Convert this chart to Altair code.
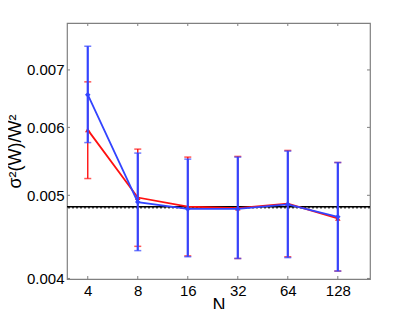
import altair as alt
import pandas as pd

# Data
ns = [4, 8, 16, 32, 64, 128]
blue_mean = [0.00655, 0.00491, 0.00482, 0.00482, 0.00488, 0.00472]
blue_hi = [0.00746, 0.00560, 0.00551, 0.00554, 0.00563, 0.00546]
blue_lo = [0.00576, 0.00431, 0.00424, 0.00422, 0.00423, 0.00408]
red_mean = [0.00596, 0.00497, 0.00485, 0.00483, 0.00489, 0.00470]
red_hi = [0.00678, 0.00566, 0.00554, 0.00555, 0.00564, 0.00546]
red_lo = [0.00523, 0.00436, 0.00425, 0.00422, 0.00424, 0.00408]
ref_solid = 0.00485
ref_dotted = 0.00484
x_ticks = [4, 8, 16, 32, 64, 128]
y_ticks = [0.004, 0.005, 0.006, 0.007]
x_domain = [3, 200]
y_domain = [0.003994, 0.00794]

W, H = 303, 256
FONT = "Liberation Sans"

df_b = pd.DataFrame({"N": ns, "m": blue_mean, "hi": blue_hi, "lo": blue_lo})
df_r = pd.DataFrame({"N": ns, "m": red_mean, "hi": red_hi, "lo": red_lo})

xs = alt.Scale(type="log", base=2, domain=x_domain, nice=False)
ys = alt.Scale(type="log", domain=y_domain, nice=False, zero=False)

xenc = alt.X("N:Q", scale=xs, title="N",
             axis=alt.Axis(values=x_ticks, format="d", tickSize=0, grid=False,
                           labelFontSize=15, labelPadding=4, labelColor="black",
                           labelFont=FONT, titleFont=FONT, titleFontSize=18,
                           titleFontWeight="normal", titlePadding=-2,
                           titleColor="black", domain=False, labelFlush=False))
yaxis = alt.Axis(values=y_ticks, format=".3f", tickSize=0, grid=False,
                 labelFontSize=15, labelPadding=3, labelColor="black",
                 labelFont=FONT, titleFont=FONT, titleFontSize=18,
                 titleFontWeight="normal", titlePadding=2, titleColor="black",
                 domain=False, labelFlush=False)


def series(df, color, shape, ew):
    base = alt.Chart(df)
    line = base.mark_line(color=color, strokeWidth=1.8).encode(
        x=xenc, y=alt.Y("m:Q", scale=ys, axis=yaxis, title="σ²(W)/W²"))
    err = base.mark_rule(color=color, strokeWidth=ew).encode(
        x="N:Q", y="lo:Q", y2="hi:Q")
    cap_hi = base.mark_tick(color=color, orient="horizontal", size=7,
                            thickness=1.5).encode(x="N:Q", y="hi:Q")
    cap_lo = base.mark_tick(color=color, orient="horizontal", size=7,
                            thickness=1.5).encode(x="N:Q", y="lo:Q")
    pts = base.mark_point(color=color, shape=shape, filled=True, size=30,
                          opacity=1).encode(x="N:Q", y="m:Q")
    return [line, err, cap_hi, cap_lo, pts]


ref_df = pd.DataFrame({"v": [ref_solid], "d": [ref_dotted]})
dotted = alt.Chart(ref_df).mark_rule(color="#555555", strokeWidth=2,
                                     strokeDash=[2, 2]).encode(y="d:Q")
solid = alt.Chart(ref_df).mark_rule(color="black", strokeWidth=1.5).encode(y="v:Q")

# inward ticks (matlab style)
xt = pd.DataFrame({"N": x_ticks})
yt = pd.DataFrame({"v": y_ticks})
tick_b = alt.Chart(xt).mark_rule(color="#808080").encode(
    x="N:Q", y=alt.value(H), y2=alt.value(H - 3))
tick_t = alt.Chart(xt).mark_rule(color="#808080").encode(
    x="N:Q", y=alt.value(0), y2=alt.value(3))
tick_l = alt.Chart(yt).mark_rule(color="#808080").encode(
    y="v:Q", x=alt.value(0), x2=alt.value(3))
tick_r = alt.Chart(yt).mark_rule(color="#808080").encode(
    y="v:Q", x=alt.value(W), x2=alt.value(W - 3))

layers = [tick_b, tick_t, tick_l, tick_r, dotted, solid] + \
    series(df_r, "#ff1010", "triangle-up", 1.4) + \
    series(df_b, "#3344ff", "diamond", 2.2)

chart = alt.layer(*layers).properties(
    width=W, height=H,
    autosize=alt.AutoSizeParams(type="none"),
    padding={"left": 59, "top": 15, "right": 31, "bottom": 30},
    background="white",
).configure_view(stroke="#808080", strokeWidth=1.2)

chart.save("out.html", embed_options={"renderer": "svg", "actions": False})
